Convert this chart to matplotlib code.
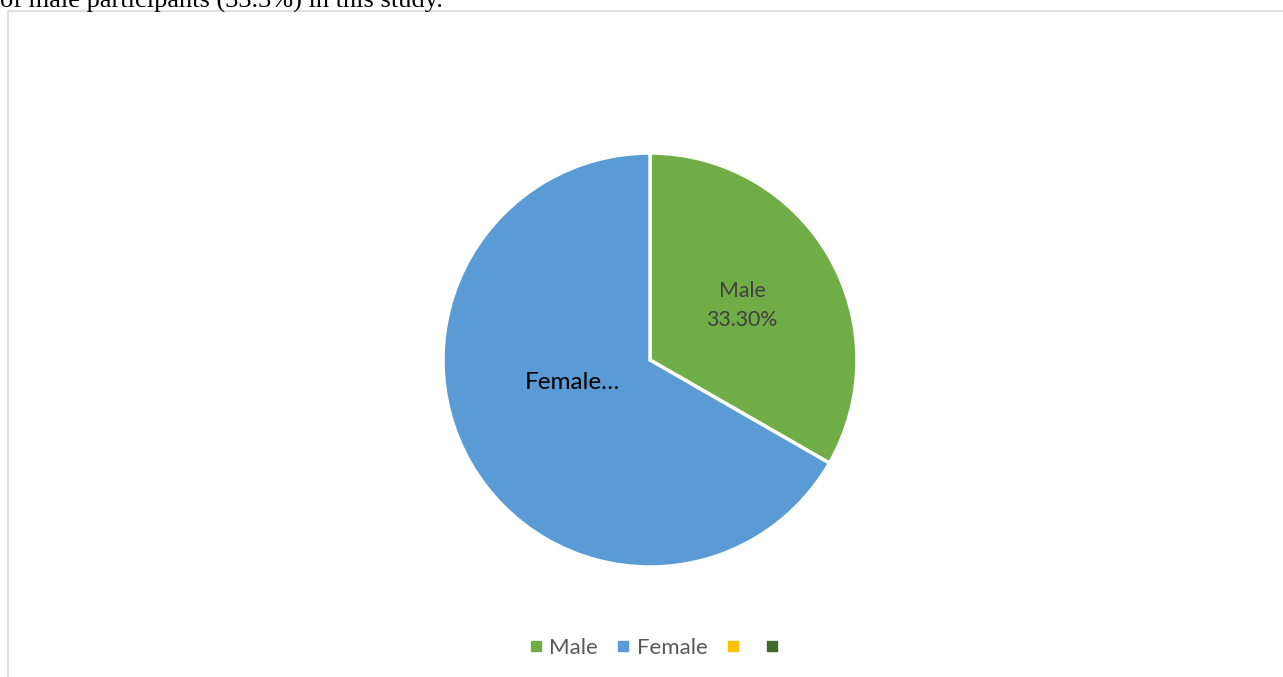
import matplotlib
matplotlib.use("Agg")
import matplotlib.pyplot as plt
from matplotlib.patches import Rectangle
from matplotlib.lines import Line2D

# Gender split of study participants
categories = ["Male", "Female", "", ""]
shares = [33.3, 66.7, 0.0, 0.0]
colors = ["#70AD47", "#5B9BD5", "#FFC000", "#43682B"]

W, H = 1283, 677
fig = plt.figure(figsize=(W / 100, H / 100), dpi=100)
fig.patch.set_facecolor("white")

def fx(px):
    return px / W

def fy(py):
    return 1 - py / H

# Running text of the document above the chart (clipped at the top edge)
fig.text(fx(0), fy(7.5), "of male participants (33.3%) in this study.",
         family="Liberation Serif", fontsize=19, color="black",
         ha="left", va="baseline")

# Chart area frame
frame = Rectangle((fx(7.5), fy(700)), fx(1400), fy(10.5) - fy(700),
                  transform=fig.transFigure, fill=False,
                  edgecolor="#D9D9D9", linewidth=1.2)
fig.patches.append(frame)

# Pie axes: centre (650, 360), radius 207 px
cx, cy, r = 650, 360, 207
ax = fig.add_axes([fx(cx - r), fy(cy + r), fx(2 * r), fy(cy - r) - fy(cy + r)])

vals = [v for v in shares if v > 0]
cols = [c for v, c in zip(shares, colors) if v > 0]
wedges, _ = ax.pie(vals, colors=cols, startangle=90, counterclock=False,
                   radius=1.0, center=(0, 0),
                   wedgeprops=dict(edgecolor="white", linewidth=2.5))
ax.set_xlim(-1, 1)
ax.set_ylim(-1, 1)
ax.set_aspect("equal")
ax.axis("off")

# Data labels
ax.text(0.445, 0.265, f"{categories[0]}\n{shares[0]:.2f}%", ha="center", va="center",
        family="Lato", fontsize=15.3, color="#404040", linespacing=1.55)
ax.text(-0.375, -0.11, "Female…", ha="center", va="center",
        family="Lato", fontsize=17.5, color="black")

# Legend
handles = [Line2D([0], [0], marker="s", linestyle="none", markersize=6.5,
                  markerfacecolor=c, markeredgecolor=c) for c in colors]
fig.legend(handles, categories, loc="center", bbox_to_anchor=(fx(657), fy(648)),
           ncol=4, frameon=False, prop=dict(family="Lato", size=16),
           labelcolor="#595959", handletextpad=0.3, columnspacing=0.85,
           handlelength=0.6)

fig.savefig("out.png", dpi=100, facecolor="white")
